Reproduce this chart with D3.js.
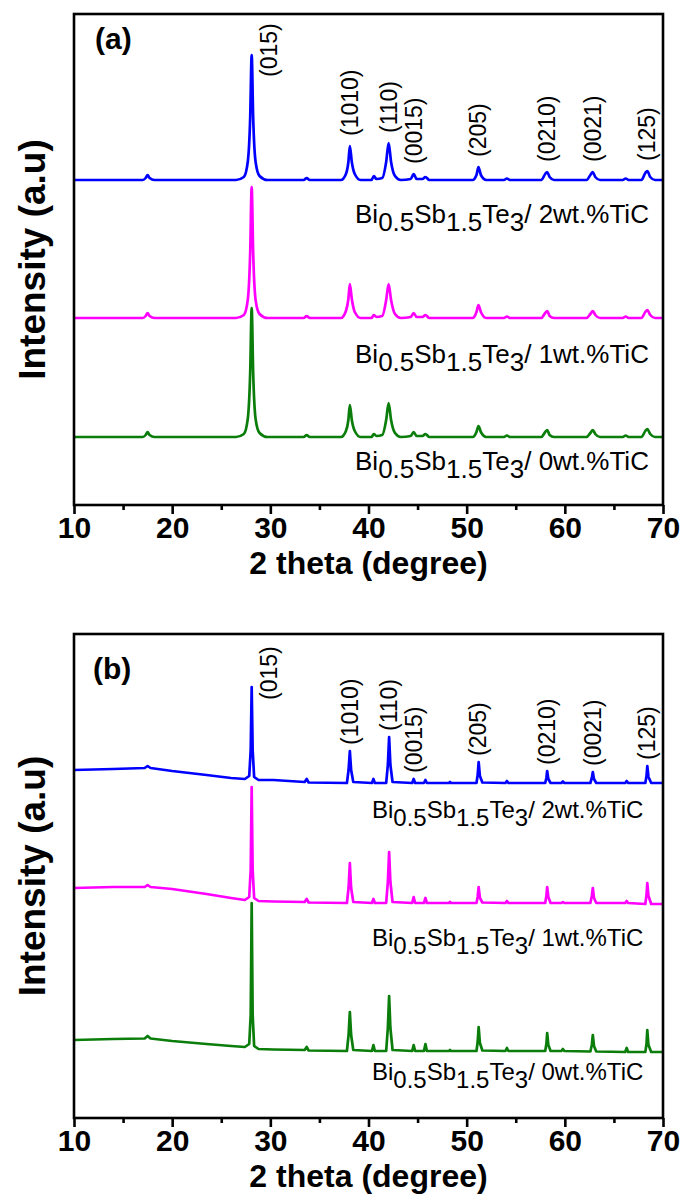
<!DOCTYPE html>
<html><head><meta charset="utf-8">
<script src="https://cdn.jsdelivr.net/npm/d3@7"></script>
<style>html,body{margin:0;padding:0;background:#fff}svg{display:block}</style>
</head><body>
<svg id="chart" width="682" height="1196"></svg>
<script>
// ---------- data ----------
const xTicks = [10, 20, 30, 40, 50, 60, 70];
const xMinorTicks = [15, 25, 35, 45, 55, 65];
const xTitle = "2 theta (degree)";
const yTitle = "Intensity (a.u)";
const panelTags = ["(a)", "(b)"];
const peakLabels = ["(015)", "(1010)", "(110)", "(0015)", "(205)", "(0210)", "(0021)", "(125)"];
const peakPos = [28.1, 38.1, 42.1, 44.6, 51.2, 58.2, 62.85, 68.4];
const seriesNames = ["2wt.%TiC", "1wt.%TiC", "0wt.%TiC"];
const seriesColors = ["#0000ff", "#ff00ff", "#0a7d0a"];

// panel (a): [2theta, intensity (a.u., stacked)]
const a2wt = [[10,312],[17.0,312],[17.3,314],[17.5,317],[17.7,314],[18.2,312],
[26.5,312],[27.3,315],[27.7,330],[27.95,375],[28.1,437],[28.25,375],[28.5,330],[28.9,316],[29.7,312],
[33.4,312],[33.7,314],[34.0,312],
[37.2,312],[37.7,318],[37.95,330],[38.1,346],[38.3,330],[38.6,318],[39.2,312],
[40.3,312],[40.55,316],[40.8,313],
[41.4,314],[41.8,330],[42.05,349],[42.3,330],[42.7,316],[43.3,312],
[44.3,313],[44.6,318],[44.9,313],[45.5,313],[45.8,315],[46.2,312],
[50.6,312],[51.0,317],[51.2,325],[51.45,317],[52.0,312],
[53.8,312],[54.1,313.5],[54.4,312],
[57.6,312],[58.0,318],[58.2,320],[58.45,315],[58.9,312],
[62.2,312],[62.6,317],[62.85,320],[63.1,315],[63.6,312],
[65.9,312],[66.2,313.5],[66.5,312],
[67.8,312],[68.2,319],[68.4,321],[68.7,315],[69.2,312],[70,312]];
const a1wt = [[10,174],[17.0,174],[17.3,176],[17.5,179],[17.7,176],[18.2,174],
[26.5,174],[27.3,177],[27.7,192],[27.95,240],[28.1,305],[28.25,240],[28.5,192],[28.9,178],[29.7,174],
[33.4,174],[33.7,176],[34.0,174],
[37.2,174],[37.7,181],[37.95,193],[38.1,208],[38.3,193],[38.6,180],[39.2,174],
[40.3,174],[40.55,177],[40.8,175],
[41.4,176],[41.8,192],[42.05,208],[42.3,192],[42.7,178],[43.3,174],
[44.3,175],[44.6,179],[44.9,175],[45.5,175],[45.8,177],[46.2,174],
[50.6,174],[51.0,180],[51.2,187],[51.45,180],[52.0,174],
[53.8,174],[54.1,175.5],[54.4,174],
[57.6,174],[58.0,179],[58.2,181],[58.45,176],[58.9,174],
[62.2,174],[62.6,178],[62.85,181],[63.1,177],[63.6,174],
[65.9,174],[66.2,175.5],[66.5,174],
[67.8,174],[68.2,180],[68.4,182],[68.7,177],[69.2,174],[70,174]];
const a0wt = [[10,55],[17.0,55],[17.3,57],[17.5,60],[17.7,57],[18.2,55],
[26.5,55],[27.3,58],[27.7,73],[27.95,120],[28.1,184],[28.25,120],[28.5,73],[28.9,59],[29.7,55],
[33.4,55],[33.7,57],[34.0,55],
[37.2,55],[37.7,61],[37.95,72],[38.1,87],[38.3,72],[38.6,61],[39.2,55],
[40.3,55],[40.55,58],[40.8,56],
[41.4,57],[41.8,72],[42.05,89],[42.3,72],[42.7,59],[43.3,55],
[44.3,56],[44.6,60],[44.9,56],[45.5,56],[45.8,58],[46.2,55],
[50.6,55],[51.0,60],[51.2,66],[51.45,60],[52.0,55],
[53.8,55],[54.1,56.5],[54.4,55],
[57.6,55],[58.0,60],[58.2,62],[58.45,57],[58.9,55],
[62.2,55],[62.6,59],[62.85,62],[63.1,58],[63.6,55],
[65.9,55],[66.2,56.5],[66.5,55],
[67.8,55],[68.2,61],[68.4,63],[68.7,58],[69.2,55],[70,55]];

// panel (b)
const b2wt = [[10,340],[14,341],[17.2,342],[17.5,344],[17.8,342],[20,339],[23.5,335],[26,332],[27.4,331],[27.85,334],[28.0,360],[28.1,423],[28.2,360],[28.35,333],[28.8,330],[30.3,330],[33.5,328],[33.7,331],[33.9,327.5],[37.8,327],[37.97,340],[38.1,359],[38.23,340],[38.45,328],[40.35,327],[40.5,331],[40.65,327],[41.8,327],[41.97,345],[42.1,373],[42.23,345],[42.45,328],[44.45,327],[44.6,331],[44.75,327],[45.65,327],[45.8,330],[45.95,327],[48.2,327],[48.3,328],[48.4,327],[51.0,327],[51.12,335],[51.22,348],[51.35,334],[51.6,327.5],[53.95,327],[54.1,329],[54.25,327],[58.0,327],[58.12,332],[58.2,339],[58.32,331],[58.55,327],[59.65,327],[59.8,328.5],[59.95,327],[62.6,327],[62.75,332],[62.85,338],[62.97,331],[63.2,327],[66.15,327],[66.3,329],[66.45,327],[68.2,327],[68.32,334],[68.4,344],[68.52,333],[68.8,327],[70,327]];
const b1wt = [[10,222],[14,223],[17.2,223],[17.5,225],[17.8,223],[20,221],[23.5,216],[26,212],[27.4,210],[27.85,213],[28.0,240],[28.1,323],[28.2,240],[28.35,212],[28.8,209],[30.3,208.5],[33.5,208],[33.7,211],[33.9,207.5],[37.8,207],[37.97,222],[38.1,247],[38.23,222],[38.45,208],[40.35,207],[40.5,211],[40.65,207],[41.8,207],[41.97,228],[42.1,258],[42.23,228],[42.45,208],[44.45,207],[44.6,213],[44.75,207],[45.65,207],[45.8,212],[45.95,207],[48.2,207],[48.3,208],[48.4,207],[51.0,207],[51.12,213],[51.22,223],[51.35,212],[51.6,207.5],[53.95,207],[54.1,209],[54.25,207],[58.0,207],[58.12,214],[58.2,223],[58.32,213],[58.55,207],[59.65,207],[59.8,208],[59.95,207],[62.6,207],[62.75,214],[62.85,222],[62.97,212],[63.2,207],[66.15,207],[66.3,209],[66.45,207],[68.2,206],[68.32,215],[68.4,227],[68.52,214],[68.8,206],[70,206]];
const b0wt = [[10,70],[14,71],[17.2,71.5],[17.5,74],[17.8,71.5],[20,69],[23.5,66],[26,64],[27.4,63],[27.85,66],[28.0,95],[28.1,207],[28.2,95],[28.35,64],[28.8,61],[30.3,60.5],[33.5,60],[33.7,63],[33.9,59.5],[37.8,59],[37.97,75],[38.1,98],[38.23,75],[38.45,60],[40.35,59],[40.5,65],[40.65,59],[41.8,59],[41.97,82],[42.1,114],[42.23,82],[42.45,60],[44.45,59],[44.6,65],[44.75,59],[45.65,59],[45.8,66],[45.95,59],[48.2,59],[48.3,60],[48.4,59],[51.0,59],[51.12,68],[51.22,83],[51.35,67],[51.6,59.5],[53.95,59],[54.1,62],[54.25,59],[58.0,59],[58.12,66],[58.2,77],[58.32,65],[58.55,59],[59.65,59],[59.8,61],[59.95,59],[62.6,58.5],[62.75,65],[62.85,75],[62.97,64],[63.2,58.5],[66.15,58],[66.3,62],[66.45,58],[68.2,58],[68.32,66],[68.4,80],[68.52,65],[68.8,58],[70,58]];

// ---------- layout ----------
const svg = d3.select("#chart");
const FONT = "'Liberation Sans', Arial, sans-serif";
const left = 74, right = 663;
const panels = [
  {top: 14, bottom: 505, yDomain: [-13, 478], series: [a2wt, a1wt, a0wt], curve: d3.curveMonotoneX,
   labelX: 355, labelY: [223, 363, 470], labelSize: 26, gap: 10, firstGap: -22,
   tagX: 95, tagY: 49},
  {top: 634, bottom: 1118, yDomain: [-8, 476], series: [b2wt, b1wt, b0wt], curve: d3.curveLinear,
   labelX: 372, labelY: [818, 946, 1080], labelSize: 24, gap: 6, firstGap: -13,
   tagX: 93, tagY: 679}
];

const x = d3.scaleLinear().domain([10, 70]).range([left, right]);

panels.forEach((p, pi) => {
  const y = d3.scaleLinear().domain(p.yDomain).range([p.bottom, p.top]);
  const g = svg.append("g");

  // traces
  const line = d3.line().x(d => x(d[0])).y(d => y(d[1])).curve(p.curve);
  p.series.forEach((s, si) => {
    g.append("path").attr("d", line(s)).attr("fill", "none")
      .attr("stroke", seriesColors[si]).attr("stroke-width", 2.7)
      .attr("stroke-linejoin", "round");
  });

  // frame
  g.append("rect").attr("x", left).attr("y", p.top)
    .attr("width", right - left).attr("height", p.bottom - p.top)
    .attr("fill", "none").attr("stroke", "#000").attr("stroke-width", 2.6);

  // bottom axis
  const ax = g.append("g").attr("transform", `translate(0,${p.bottom})`);
  ax.call(d3.axisBottom(x).tickValues(xTicks).tickSize(9).tickFormat(d3.format("d")));
  ax.select(".domain").remove();
  ax.selectAll(".tick line").attr("stroke", "#000").attr("stroke-width", 2.6);
  ax.selectAll(".tick text").attr("font-family", FONT).attr("font-weight", "bold")
    .attr("font-size", 30).attr("fill", "#000").attr("dy", null).attr("y", 33);
  const axm = g.append("g").attr("transform", `translate(0,${p.bottom})`);
  axm.call(d3.axisBottom(x).tickValues(xMinorTicks).tickSize(5).tickFormat(""));
  axm.select(".domain").remove();
  axm.selectAll(".tick line").attr("stroke", "#000").attr("stroke-width", 2.6);

  // axis titles
  g.append("text").attr("x", (left + right) / 2).attr("y", p.bottom + 69)
    .attr("text-anchor", "middle").attr("font-family", FONT).attr("font-weight", "bold")
    .attr("font-size", 32).text(xTitle);
  g.append("text").attr("transform", `translate(45,${(p.top + p.bottom) / 2}) rotate(-90)`)
    .attr("text-anchor", "middle").attr("font-family", FONT).attr("font-weight", "bold")
    .attr("font-size", 37).text(yTitle);

  // panel tag
  g.append("text").attr("x", p.tagX).attr("y", p.tagY).attr("font-family", FONT)
    .attr("font-weight", "bold").attr("font-size", 30).text(panelTags[pi]);

  // peak labels
  const top = p.series[0];
  peakLabels.forEach((lab, i) => {
    const pos = peakPos[i];
    const pk = d3.max(top.filter(d => Math.abs(d[0] - pos) <= 0.3), d => d[1]);
    const yy = y(pk) - (i === 0 ? p.firstGap : p.gap);
    const xx = x(pos) + (i === 0 ? 17 : 0);
    g.append("text").attr("transform", `translate(${xx},${yy}) rotate(-90)`)
      .attr("dominant-baseline", "central").attr("font-family", FONT)
      .attr("font-size", 23).text(lab);
  });

  // series labels
  seriesNames.forEach((nm, si) => {
    const t = g.append("text").attr("x", p.labelX).attr("y", p.labelY[si])
      .attr("font-family", FONT).attr("font-size", p.labelSize).attr("fill", "#000");
    const sub = 8;
    t.append("tspan").text("Bi");
    t.append("tspan").attr("dy", sub).text("0.5");
    t.append("tspan").attr("dy", -sub).text("Sb");
    t.append("tspan").attr("dy", sub).text("1.5");
    t.append("tspan").attr("dy", -sub).text("Te");
    t.append("tspan").attr("dy", sub).text("3");
    t.append("tspan").attr("dy", -sub).text("/ " + nm);
  });
});
</script>
</body></html>
